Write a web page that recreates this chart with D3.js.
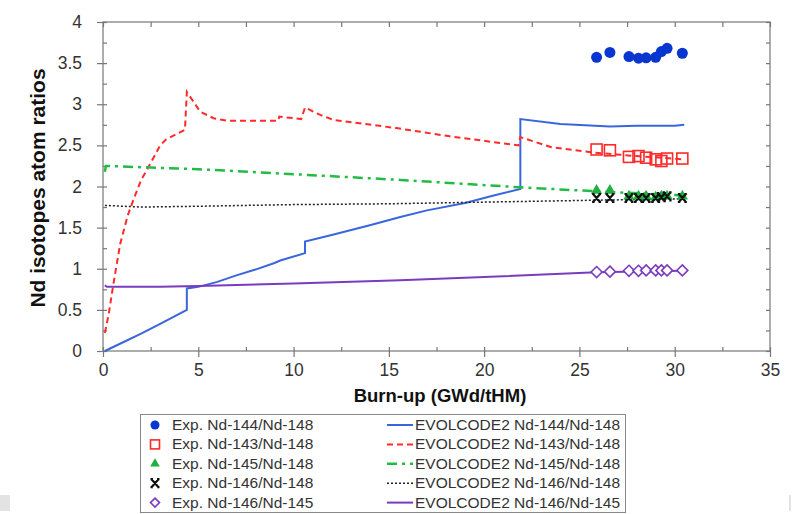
<!DOCTYPE html>
<html><head><meta charset="utf-8">
<script src="https://cdn.jsdelivr.net/npm/d3@7"></script>
<style>body{margin:0;background:#fff}svg{display:block}</style>
</head><body>
<svg id="c" width="796" height="514"></svg>
<script>
// Experimental burn-up values (GWd/tHM)
const expBurnup = [25.9, 26.6, 27.6, 28.1, 28.5, 29.0, 29.3, 29.6, 30.4];
const exp144_148 = [3.57, 3.63, 3.58, 3.56, 3.565, 3.57, 3.64, 3.68, 3.62];
const exp143_148 = [2.45, 2.44, 2.36, 2.37, 2.35, 2.33, 2.31, 2.34, 2.34];
const exp145_148 = [1.95, 1.95, 1.88, 1.88, 1.88, 1.87, 1.88, 1.88, 1.88];
const exp146_148 = [1.86, 1.86, 1.86, 1.86, 1.86, 1.86, 1.87, 1.88, 1.86];
const exp146_145 = [0.96, 0.965, 0.975, 0.975, 0.98, 0.98, 0.98, 0.98, 0.98];

// EVOLCODE2 calculated curves: [burn-up, ratio]
const evo144_148 = [[0.1,0.0],[1,0.1],[2,0.21],[3,0.33],[4.4,0.5],[4.4,0.76],[5,0.78],[6,0.84],[7,0.92],[8,0.99],[9,1.07],[9.3,1.1],[10.6,1.19],[10.6,1.33],[12,1.41],[14,1.53],[15.6,1.63],[17,1.71],[19,1.8],[20.5,1.89],[21.9,1.97],[21.9,2.82],[24,2.76],[26.6,2.73],[28,2.74],[30,2.74],[30.5,2.75]];
const evo143_148 = [[0.1,0.22],[0.3,0.45],[0.55,0.82],[0.9,1.3],[1.3,1.65],[1.6,1.84],[2.0,2.08],[2.3,2.2],[3.0,2.5],[3.3,2.57],[4.3,2.69],[4.4,3.15],[5.1,2.91],[5.8,2.83],[6.5,2.8],[9.2,2.8],[9.25,2.85],[10.4,2.82],[10.6,2.96],[11.4,2.87],[12.1,2.81],[15.4,2.71],[18.2,2.61],[21.8,2.5],[21.9,2.6],[23.5,2.48],[25.8,2.41],[28,2.37],[30.5,2.33]];
const evo145_148 = [[0.1,2.18],[0.15,2.25],[5,2.21],[10,2.15],[15.6,2.08],[21.9,1.99],[26,1.94],[30.5,1.89]];
const evo146_148 = [[0.1,1.77],[2,1.75],[5,1.76],[10,1.78],[15,1.79],[20,1.81],[25,1.83],[30.5,1.85]];
const evo146_145 = [[0.1,0.8],[0.2,0.78],[3,0.78],[5,0.79],[10,0.82],[15.6,0.86],[20,0.9],[25.9,0.957],[30.4,0.975]];

const xTicks = [0, 5, 10, 15, 20, 25, 30, 35];
const yTicks = [0, 0.5, 1, 1.5, 2, 2.5, 3, 3.5, 4];
const xLabel = "Burn-up (GWd/tHM)";
const yLabel = "Nd isotopes atom ratios";
const expNames = ["Exp. Nd-144/Nd-148","Exp. Nd-143/Nd-148","Exp. Nd-145/Nd-148","Exp. Nd-146/Nd-148","Exp. Nd-146/Nd-145"];
const evoNames = ["EVOLCODE2 Nd-144/Nd-148","EVOLCODE2 Nd-143/Nd-148","EVOLCODE2 Nd-145/Nd-148","EVOLCODE2 Nd-146/Nd-148","EVOLCODE2 Nd-146/Nd-145"];

const svg = d3.select("#c");
const L = 103, R = 770, T = 22, B = 351;
const x = d3.scaleLinear().domain([0, 35]).range([L, R]);
const y = d3.scaleLinear().domain([0, 4]).range([B, T]);
const axisCol = "#777", txtCol = "#333";
const font = "Liberation Sans, Arial, sans-serif";

// frame
svg.append("rect").attr("x", L).attr("y", T).attr("width", R-L).attr("height", B-T)
  .attr("fill", "none").attr("stroke", axisCol).attr("stroke-width", 1.2);

function styleAxis(g){ g.select(".domain").remove(); g.selectAll("line").attr("stroke", axisCol).attr("stroke-width",1.2); g.selectAll("text").attr("fill", txtCol).attr("font-size", 17.5).attr("font-family", font); }

// major outward ticks
svg.append("g").attr("transform", `translate(0,${B})`)
  .call(d3.axisBottom(x).tickValues(xTicks).tickFormat(d3.format("d")).tickSize(6).tickPadding(7)).call(styleAxis);
svg.append("g").attr("transform", `translate(${L},0)`)
  .call(d3.axisLeft(y).tickValues(yTicks).tickFormat(d => d3.format("")(d)).tickSize(6).tickPadding(15)).call(styleAxis);
// minor inward ticks
const xMinor = d3.range(0, 35.01, 2.5);
const yMinor = d3.range(0, 4.01, 0.25);
svg.append("g").attr("transform", `translate(0,${B})`)
  .call(d3.axisTop(x).tickValues(xMinor).tickFormat("").tickSize(4)).call(styleAxis);
svg.append("g").attr("transform", `translate(0,${T})`)
  .call(d3.axisBottom(x).tickValues(xMinor).tickFormat("").tickSize(5)).call(styleAxis);
svg.append("g").attr("transform", `translate(${L},0)`)
  .call(d3.axisRight(y).tickValues(yMinor).tickFormat("").tickSize(4)).call(styleAxis);
svg.append("g").attr("transform", `translate(${R},0)`)
  .call(d3.axisLeft(y).tickValues(yMinor).tickFormat("").tickSize(4)).call(styleAxis);

// axis labels
svg.append("text").attr("x", 440).attr("y", 402).attr("text-anchor","middle")
  .attr("font-family", font).attr("font-weight","bold").attr("font-size", 18.5).attr("fill","#111").text(xLabel);
svg.append("text").attr("transform", "translate(45,188) rotate(-90)").attr("text-anchor","middle")
  .attr("font-family", font).attr("font-weight","bold").attr("font-size", 21).attr("fill","#111").text(yLabel);

// curves
const line = d3.line().x(d => x(d[0])).y(d => y(d[1]));
const curveStyles = [
  {data: evo144_148, color: "#3a66dd", dash: null, w: 2},
  {data: evo143_148, color: "#ff2a2a", dash: "6,4", w: 2},
  {data: evo145_148, color: "#22bb44", dash: "10,5,3,5", w: 2.5},
  {data: evo146_148, color: "#222", dash: "2,2", w: 1.5},
  {data: evo146_145, color: "#7a3bbf", dash: null, w: 2}
];
curveStyles.forEach(c => {
  svg.append("path").attr("d", line(c.data)).attr("fill","none").attr("stroke", c.color)
    .attr("stroke-width", c.w).attr("stroke-dasharray", c.dash);
});

// markers
function drawMarker(g, kind, cx, cy){
  if (kind === 0) g.append("circle").attr("cx",cx).attr("cy",cy).attr("r",5.5).attr("fill","#0a36d0");
  else if (kind === 1) g.append("rect").attr("x",cx-5.5).attr("y",cy-5.5).attr("width",11).attr("height",11).attr("fill","none").attr("stroke","#ff2a2a").attr("stroke-width",1.6);
  else if (kind === 2) g.append("path").attr("d", d3.symbol(d3.symbolTriangle, 55)()).attr("transform",`translate(${cx},${cy})`).attr("fill","#1fb040");
  else if (kind === 3) g.append("path").attr("d", `M${cx-3.5},${cy-4}L${cx+3.5},${cy+4}M${cx+3.5},${cy-4}L${cx-3.5},${cy+4}M${cx-4.5},${cy-4}h2.5M${cx+2},${cy-4}h2.5M${cx-4.5},${cy+4}h2.5M${cx+2},${cy+4}h2.5`).attr("stroke","#111").attr("stroke-width",2.2).attr("fill","none");
  else g.append("path").attr("d", `M${cx},${cy-5.5}L${cx+5.5},${cy}L${cx},${cy+5.5}L${cx-5.5},${cy}Z`).attr("fill","#fff").attr("stroke","#7a3bbf").attr("stroke-width",1.6);
}
const expSeries = [exp144_148, exp143_148, exp145_148, exp146_148, exp146_145];
const mg = svg.append("g");
expSeries.forEach((vals, k) => {
  vals.forEach((v, i) => drawMarker(mg, k, x(expBurnup[i]), y(v)));
});

// legend
const lg = svg.append("g");
lg.append("rect").attr("x",140.5).attr("y",414.5).attr("width",485).attr("height",98)
  .attr("fill","#fff").attr("stroke","#888").attr("stroke-width",1);
expNames.forEach((n, i) => {
  const cy = 425 + i*19.4;
  const sg = lg.append("g");
  if (i === 0) sg.append("circle").attr("cx",155).attr("cy",cy).attr("r",4.5).attr("fill","#0a36d0");
  else if (i === 1) sg.append("rect").attr("x",150.5).attr("y",cy-4.5).attr("width",9).attr("height",9).attr("fill","none").attr("stroke","#ff2a2a").attr("stroke-width",1.6);
  else if (i === 2) sg.append("path").attr("d", d3.symbol(d3.symbolTriangle, 40)()).attr("transform",`translate(155,${cy})`).attr("fill","#1fb040");
  else if (i === 3) drawMarker(sg, 3, 155, cy);
  else sg.append("path").attr("d", `M155,${cy-4.5}L159.5,${cy}L155,${cy+4.5}L150.5,${cy}Z`).attr("fill","#fff").attr("stroke","#7a3bbf").attr("stroke-width",1.6);
  lg.append("text").attr("x",172).attr("y",cy+5).attr("font-family",font).attr("font-size",15.5).attr("fill",txtCol).text(n);
});
evoNames.forEach((n, i) => {
  const cy = 425 + i*19.4;
  const c = curveStyles[i];
  lg.append("line").attr("x1",387).attr("x2",413).attr("y1",cy).attr("y2",cy)
    .attr("stroke",c.color).attr("stroke-width",c.w).attr("stroke-dasharray",c.dash);
  lg.append("text").attr("x",415).attr("y",cy+5).attr("font-family",font).attr("font-size",15.5).attr("fill",txtCol).text(n);
});

// faint edge artifacts
svg.append("rect").attr("x",0).attr("y",495).attr("width",10).attr("height",16).attr("fill","#e3e3e3");
svg.append("rect").attr("x",789).attr("y",495).attr("width",2).attr("height",16).attr("fill","#e3e3e3");
</script>
</body></html>
